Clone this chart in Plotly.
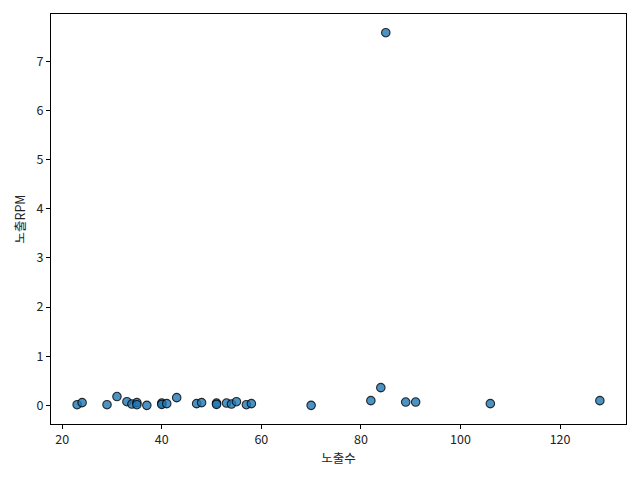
import plotly.graph_objects as go

impressions = [23, 24, 29, 31, 33, 34, 35, 35, 37, 40, 40, 41, 43, 47, 48, 51, 51, 53, 54, 55,
               57, 58, 70, 82, 84, 85, 89, 91, 106, 128]
rpm = [0.014, 0.055, 0.014, 0.18, 0.075, 0.027, 0.055, 0.014, 0.0, 0.047, 0.02, 0.035, 0.157, 0.035,
       0.055, 0.047, 0.02, 0.047, 0.027, 0.075, 0.014, 0.035, 0.0, 0.096, 0.36, 7.58, 0.067, 0.067,
       0.035, 0.096]

x_ticks = [20, 40, 60, 80, 100, 120]
y_ticks = [0, 1, 2, 3, 4, 5, 6, 7]

fig = go.Figure(go.Scatter(
    x=impressions, y=rpm, mode="markers",
    marker=dict(size=8.5, color="rgba(31,119,180,0.8)",
                line=dict(color="rgba(0,0,0,0.8)", width=1.1)),
))

font = dict(family="Noto Sans CJK KR, Noto Sans, sans-serif", size=12.5, color="#222")
axis_common = dict(showgrid=False, zeroline=False, showline=True, linecolor="black", linewidth=1,
                   mirror=True, ticks="outside", ticklen=4, tickcolor="black", tickwidth=1,
                   tickfont=font, automargin=False)

fig.update_layout(
    width=632, height=472,
    margin=dict(l=43, r=14, t=6, b=56),
    plot_bgcolor="white", paper_bgcolor="white",
    showlegend=False,
    xaxis=dict(range=[17.75, 133.25], tickvals=x_ticks,
               title=dict(text="노출수", font=font, standoff=6), **axis_common),
    yaxis=dict(range=[-0.379, 7.96], tickvals=y_ticks,
               title=dict(text="노출RPM", font=font, standoff=8), **axis_common),
)

fig.write_html("out.html")
